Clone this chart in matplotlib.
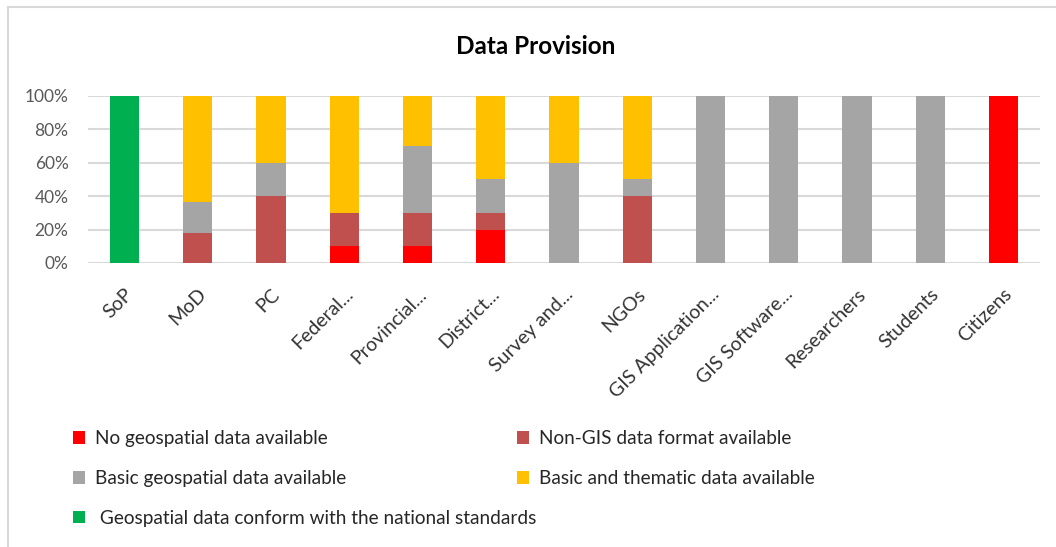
import numpy as np
import matplotlib.pyplot as plt
from matplotlib.patches import Rectangle, Patch

plt.rcParams['font.family'] = ['Lato', 'DejaVu Sans']

# 类别与数据 (%)
categories = ['SoP', 'MoD', 'PC', 'Federal...', 'Provincial...', 'District...',
              'Survey and...', 'NGOs', 'GIS Application...', 'GIS Software...',
              'Researchers', 'Students', 'Citizens']
no_data = [0, 0, 0, 10, 10, 20, 0, 0, 0, 0, 0, 0, 100]
non_gis = [0, 18, 40, 20, 20, 10, 0, 40, 0, 0, 0, 0, 0]
basic = [0, 18.5, 20, 0, 40, 20, 60, 10, 100, 100, 100, 100, 0]
thematic = [0, 63.5, 40, 70, 30, 50, 40, 50, 0, 0, 0, 0, 0]
conform = [100, 0, 0, 0, 0, 0, 0, 0, 0, 0, 0, 0, 0]

series = [
    ('No geospatial data available', no_data, '#FF0000'),
    ('Non-GIS data format available', non_gis, '#C0504D'),
    ('Basic geospatial data available', basic, '#A5A5A5'),
    ('Basic and thematic data available', thematic, '#FFC000'),
    (' Geospatial data conform with the national standards', conform, '#00B050'),
]

W, H = 1056, 547
fig = plt.figure(figsize=(W / 100, H / 100), dpi=100)
ax = fig.add_axes([88 / W, 1 - 263 / H, (1040 - 88) / W, (263 - 96) / H])

# 图表外框
fig.patches.append(Rectangle((8 / W, -0.1), 1.2, 1 - 7 / H + 0.1, transform=fig.transFigure,
                             fill=False, edgecolor='#D9D9D9', linewidth=1.5))

x = np.arange(len(categories))
bottom = np.zeros(len(categories))
handles = {}
for label, vals, color in series:
    vals = np.array(vals, dtype=float)
    ax.bar(x, vals, bottom=bottom, width=0.4, color=color, zorder=3)
    bottom += vals
    handles[label] = Patch(facecolor=color, label=label)

ax.set_xlim(-0.5, len(categories) - 0.5)
ax.set_ylim(0, 100)
ax.set_yticks(range(0, 101, 20))
ax.set_yticklabels([f'{v}%' for v in range(0, 101, 20)])
ax.set_xticks(x)
ax.set_xticklabels(categories, rotation=45, ha='right', rotation_mode='anchor')
ax.tick_params(axis='y', length=0, labelsize=12.5, labelcolor='#595959', pad=14)
ax.tick_params(axis='x', length=0, labelsize=14, labelcolor='#333333', pad=16)
ax.grid(axis='y', color='#D9D9D9', linewidth=1.5, zorder=0)
for s in ax.spines.values():
    s.set_visible(False)

fig.text(536 / W, 1 - 47 / H, 'Data Provision', ha='center', va='center',
         fontsize=17.5, fontweight='bold', color='black')

# 图例分两列，各自放置 (fig.legend 会自动加入 figure)
leg_kw = dict(loc='upper left', ncol=1, frameon=False, fontsize=13.7,
              handlelength=0.65, handleheight=0.65, handletextpad=0.5,
              labelspacing=1.2, labelcolor='#262626')
left_items = [series[0][0], series[2][0], series[4][0]]
right_items = [series[1][0], series[3][0]]
fig.legend(handles=[handles[k] for k in left_items],
           bbox_to_anchor=(56 / W, 1 - 413 / H), **leg_kw)
fig.legend(handles=[handles[k] for k in right_items],
           bbox_to_anchor=(500 / W, 1 - 413 / H), **leg_kw)

fig.savefig('out.png', dpi=100)
